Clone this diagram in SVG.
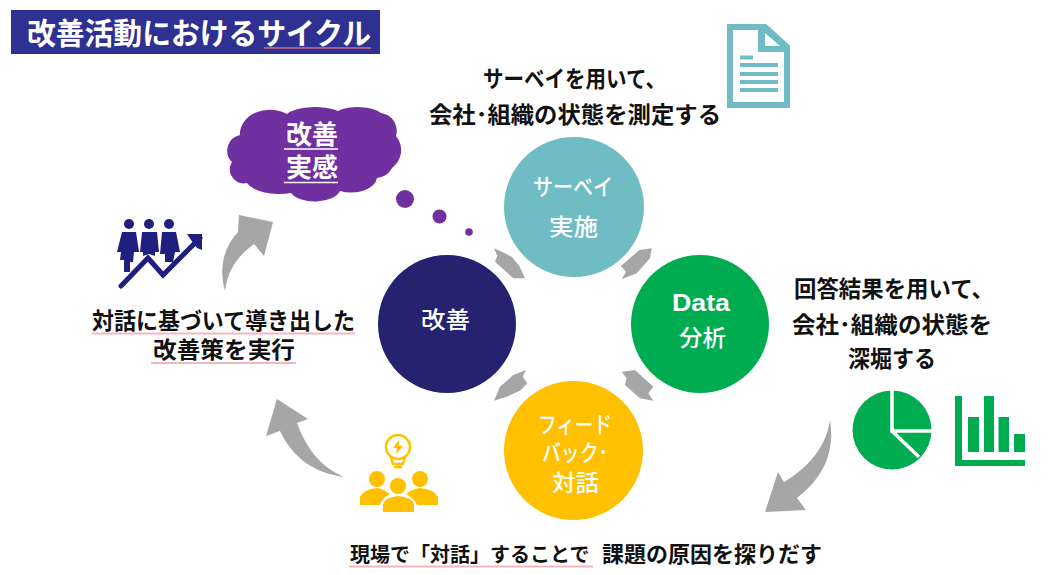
<svg xmlns="http://www.w3.org/2000/svg" width="1061" height="575" viewBox="0 0 1061 575">
<style>
text{font-family:"Liberation Sans","Noto Sans CJK JP",sans-serif;font-weight:700}
.b{font-size:23px;fill:#111}
.w{font-size:23px;fill:#fff;font-weight:500}
.ul{fill:none;stroke:#f4b6be;stroke-width:2}
.ar{fill:#a6a6a6}
.n{fill:#1f1f7f}
.y{fill:#ffc000}
.g{fill:#00ac50}
.t{fill:#70bcc4}
</style>
<rect width="1061" height="575" fill="#fff"/>
<g id="title">
<rect x="11" y="10" width="369" height="44" fill="#2e3192"/>
<text x="27" y="44" textLength="344" lengthAdjust="spacingAndGlyphs" style="font-size:30px" fill="#fff">改善活動におけるサイクル</text>
<path d="M264 48H371" fill="none" stroke="#a75a93" stroke-width="2"/>
</g>
<g id="connectors">
<path class="ar" d="M830 420C836 457 819 481 797 498L806 510L765 512L778 472L784 482C809 467 826 447 830 420Z"/>
<path class="ar" d="M344 477C316 473 294 460 280 431L266 436L277 399L308 419L297 423C306 447 319 466 344 477Z"/>
<path class="ar" d="M225 291C218 266 225 246 238 232L239 215L273 222L264 256L254 244C238 256 228 269 225 291Z"/>
<g transform="translate(480 230) scale(.3333)">
<path class="ar" d="M515 55L478 60L423 108L438 125L425 148L470 130L510 85Z"/>
<path class="ar" d="M42 55L62 64L95 80L118 108L135 145L100 145L45 95L52 78Z"/>
<path class="ar" d="M425 425L465 420L520 470L505 490L520 512L480 505L435 465L440 445Z"/>
<path class="ar" d="M138 420L100 435L60 470L42 512L80 500L120 482L142 460L128 440Z"/>
</g>
</g>
<g id="node-survey">
<circle cx="574" cy="207" r="70" class="t"/>
<text class="w" x="533" y="195" textLength="80" lengthAdjust="spacingAndGlyphs">サーベイ</text>
<text class="w" x="549" y="235" textLength="49" lengthAdjust="spacingAndGlyphs">実施</text>
</g>
<g id="node-data">
<circle cx="700" cy="324" r="69" class="g"/>
<text class="w" x="672" y="311" textLength="58" lengthAdjust="spacingAndGlyphs" style="font-weight:700">Data</text>
<text class="w" x="679" y="346" textLength="47" lengthAdjust="spacingAndGlyphs">分析</text>
</g>
<g id="node-feedback">
<circle cx="573.500" cy="450.500" r="69.500" class="y"/>
<text class="w" x="538" y="433" textLength="74" lengthAdjust="spacingAndGlyphs">フィード</text>
<text class="w" x="542" y="461" textLength="66" lengthAdjust="spacingAndGlyphs">バック･</text>
<text class="w" x="552" y="491" textLength="47" lengthAdjust="spacingAndGlyphs">対話</text>
</g>
<g id="node-improve">
<circle cx="447" cy="324" r="69" fill="#25226f"/>
<text class="w" x="421" y="328" textLength="49" lengthAdjust="spacingAndGlyphs">改善</text>
</g>
<g id="node-cloud">
<path fill="#7030a0" d="M240 135A30 24 0 0 1 287 114A30 11 0 0 1 338 111A26 11 0 0 1 381 113A18 18 0 0 1 396 136A22 22 0 0 1 392 168A20 16 0 0 1 377 178A26 16 0 0 1 340 191A26 14 0 0 1 291 193A34 16 0 0 1 247 183A14 14 0 0 1 232 162A16 16 0 0 1 240 135Z"/>
<circle cx="405" cy="199" r="9" fill="#7030a0"/>
<circle cx="439.500" cy="216.500" r="7" fill="#7030a0"/>
<circle cx="469" cy="232" r="3.800" fill="#7030a0"/>
<text x="286" y="144" textLength="52" lengthAdjust="spacingAndGlyphs" style="font-size:26px" fill="#fff">改善</text>
<text x="286" y="177" textLength="52" lengthAdjust="spacingAndGlyphs" style="font-size:26px" fill="#fff">実感</text>
<path d="M284 149H338M284 182.500H338" fill="none" stroke="#fff" stroke-width="1.500"/>
</g>
<g id="label-survey">
<text class="b" x="483" y="87" textLength="183" lengthAdjust="spacingAndGlyphs">サーベイを用いて、</text>
<text class="b" x="429" y="123" textLength="292" lengthAdjust="spacingAndGlyphs">会社･組織の状態を測定する</text>
</g>
<g id="icon-document">
<path d="M730 27H765L787 47V105H730Z" fill="#fff" stroke="#70bcc4" stroke-width="6"/>
<path class="t" d="M758 25H766L790 46V52H758Z"/>
<path fill="#fff" d="M765 33L780 46H765Z"/>
<path class="t" d="M740 55.500H753V59.500H740ZM740 63H778V67H740ZM740 72H778V76H740ZM740 80H778V84H740ZM740 88H778V92H740Z"/>
</g>
<g id="label-analysis">
<text class="b" x="794" y="297" textLength="200" lengthAdjust="spacingAndGlyphs">回答結果を用いて、</text>
<text class="b" x="792" y="333" textLength="200" lengthAdjust="spacingAndGlyphs">会社･組織の状態を</text>
<text class="b" x="848" y="367" textLength="88" lengthAdjust="spacingAndGlyphs">深堀する</text>
</g>
<g id="icon-pie">
<circle cx="892" cy="430" r="39.500" class="g"/>
<path d="M892 389V431H932M892 431L919 457" fill="none" stroke="#fff" stroke-width="3.500"/>
</g>
<g id="icon-bars">
<path class="g" d="M955 396H962V460H1025V466H955ZM968 417H979V452H968ZM984 396H994V452H984ZM998.500 417H1009V452H998.500ZM1014 434H1025V452H1014Z"/>
</g>
<g id="label-dialogue">
<text class="b" x="350" y="562" style="font-size:20px">現場で「対話」することで <tspan x="602" style="font-size:22px">課題の原因を探りだす</tspan></text>
<path class="ul" d="M349 566.500H593"/>
</g>
<g id="icon-team">
<circle cx="398" cy="447" r="12" fill="none" stroke="#ffc000" stroke-width="2.500"/>
<path fill="none" stroke="#ffc000" stroke-width="2.500" d="M391 457L393 464H403L405 457M394 467H402"/>
<path class="y" d="M399 440L393 448H397L396 454L403 446H399Z"/>
<circle cx="377" cy="479" r="8" class="y"/>
<circle cx="420" cy="479" r="8" class="y"/>
<circle cx="398" cy="486" r="8" class="y"/>
<path class="y" d="M360 505V497Q364 489 377 488Q384 489 390 494Q381 499 380 505ZM438 505V497Q434 489 420 488Q412 489 406 494Q415 499 417 505Z"/>
<path class="y" d="M383 512V504Q386 497 398 496Q411 497 414 504V512Z"/>
</g>
<g id="label-improve">
<text class="b" x="92" y="329" textLength="263" lengthAdjust="spacingAndGlyphs">対話に基づいて導き出した</text>
<text class="b" x="153" y="358" textLength="142" lengthAdjust="spacingAndGlyphs">改善策を実行</text>
<path class="ul" d="M92 333.500H355M151 363H296"/>
</g>
<g id="icon-people">
<circle cx="129" cy="224" r="5" class="n"/>
<circle cx="149" cy="224" r="5" class="n"/>
<circle cx="169" cy="224" r="5" class="n"/>
<path class="n" d="M122 232H136L139 252H134L133 262H130V272H124V260H120L121 252H117Z"/>
<path class="n" d="M142 232H157L159 252H155V256L149 254L143 256V252H140Z"/>
<path class="n" d="M162 232H176L180 252H175L173 262H165V254H160Z"/>
<path fill="none" stroke="#1f1f7f" stroke-width="5" stroke-linecap="round" stroke-linejoin="miter" d="M121 286L148 258L163 275L200 238"/>
<path class="n" d="M187 234H202V250L197 248L191 240Z"/>
</g>
</svg>
